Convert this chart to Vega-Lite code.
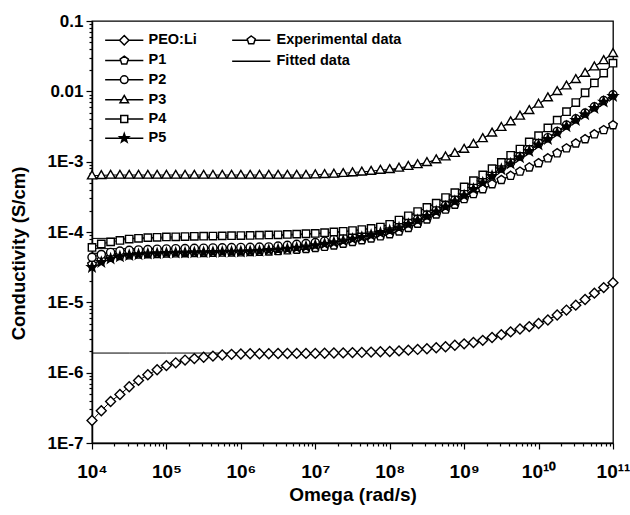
{
"$schema": "https://vega.github.io/schema/vega-lite/v6.json",
"width": 521, "height": 422,
"autosize": {"type": "none"},
"padding": {"left": 92, "top": 21, "right": 17, "bottom": 72},
"background": "white",
"config": {
 "font": "Liberation Sans",
 "view": {"stroke": "black", "strokeWidth": 1.3},
 "axis": {"grid": false, "domainColor": "black", "domainWidth": 1.5, "tickColor": "black", "tickWidth": 1.2, "labelColor": "black", "titleColor": "black", "labelFont": "Liberation Sans", "titleFont": "Liberation Sans", "labelFontWeight": "bold", "labelFlush": false, "labelOverlap": false},
 "legend": {"labelFont": "Liberation Sans", "labelFontSize": 14.5, "labelFontWeight": "bold", "labelColor": "black", "padding": 0, "rowPadding": 4.2, "symbolSize": 72, "titlePadding": 0}
},
"datasets": {
 "exp": [
{"w":1e4,"PEO:Li":2.09e-7,"P1":3.47e-5,"P2":4.37e-5,"P3":6.31e-4,"P4":6.03e-5,"P5":3.16e-5},
{"w":1.3335e4,"PEO:Li":2.88e-7,"P1":3.98e-5,"P2":4.79e-5,"P3":6.38e-4,"P4":6.76e-5,"P5":3.715e-5},
{"w":1.7783e4,"PEO:Li":3.89e-7,"P1":4.37e-5,"P2":5.13e-5,"P3":6.46e-4,"P4":7.24e-5,"P5":4.17e-5},
{"w":2.3714e4,"PEO:Li":4.90e-7,"P1":4.57e-5,"P2":5.37e-5,"P3":6.46e-4,"P4":7.59e-5,"P5":4.47e-5},
{"w":3.1623e4,"PEO:Li":6.31e-7,"P1":4.68e-5,"P2":5.50e-5,"P3":6.46e-4,"P4":7.94e-5,"P5":4.68e-5},
{"w":4.217e4,"PEO:Li":7.76e-7,"P1":4.79e-5,"P2":5.56e-5,"P3":6.46e-4,"P4":8.13e-5,"P5":4.79e-5},
{"w":5.6234e4,"PEO:Li":9.33e-7,"P1":4.84e-5,"P2":5.62e-5,"P3":6.46e-4,"P4":8.32e-5,"P5":4.90e-5},
{"w":7.4989e4,"PEO:Li":1.10e-6,"P1":4.90e-5,"P2":5.69e-5,"P3":6.46e-4,"P4":8.41e-5,"P5":4.95e-5},
{"w":1e5,"PEO:Li":1.26e-6,"P1":4.95e-5,"P2":5.75e-5,"P3":6.46e-4,"P4":8.51e-5,"P5":5.01e-5},
{"w":1.3335e5,"PEO:Li":1.38e-6,"P1":4.99e-5,"P2":5.79e-5,"P3":6.46e-4,"P4":8.55e-5,"P5":5.05e-5},
{"w":1.7783e5,"PEO:Li":1.51e-6,"P1":5.01e-5,"P2":5.82e-5,"P3":6.46e-4,"P4":8.61e-5,"P5":5.07e-5},
{"w":2.3714e5,"PEO:Li":1.585e-6,"P1":5.04e-5,"P2":5.86e-5,"P3":6.46e-4,"P4":8.67e-5,"P5":5.11e-5},
{"w":3.1623e5,"PEO:Li":1.66e-6,"P1":5.06e-5,"P2":5.89e-5,"P3":6.46e-4,"P4":8.71e-5,"P5":5.13e-5},
{"w":4.217e5,"PEO:Li":1.72e-6,"P1":5.08e-5,"P2":5.93e-5,"P3":6.46e-4,"P4":8.75e-5,"P5":5.16e-5},
{"w":5.6234e5,"PEO:Li":1.78e-6,"P1":5.11e-5,"P2":5.96e-5,"P3":6.46e-4,"P4":8.81e-5,"P5":5.19e-5},
{"w":7.4989e5,"PEO:Li":1.82e-6,"P1":5.13e-5,"P2":6.00e-5,"P3":6.46e-4,"P4":8.87e-5,"P5":5.22e-5},
{"w":1e6,"PEO:Li":1.84e-6,"P1":5.15e-5,"P2":6.03e-5,"P3":6.46e-4,"P4":8.91e-5,"P5":5.25e-5},
{"w":1.3335e6,"PEO:Li":1.86e-6,"P1":5.19e-5,"P2":6.05e-5,"P3":6.46e-4,"P4":8.95e-5,"P5":5.31e-5},
{"w":1.7783e6,"PEO:Li":1.86e-6,"P1":5.25e-5,"P2":6.10e-5,"P3":6.46e-4,"P4":9.02e-5,"P5":5.37e-5},
{"w":2.3714e6,"PEO:Li":1.86e-6,"P1":5.31e-5,"P2":6.14e-5,"P3":6.46e-4,"P4":9.08e-5,"P5":5.50e-5},
{"w":3.1623e6,"PEO:Li":1.87e-6,"P1":5.37e-5,"P2":6.31e-5,"P3":6.46e-4,"P4":9.12e-5,"P5":5.62e-5},
{"w":4.217e6,"PEO:Li":1.87e-6,"P1":5.50e-5,"P2":6.46e-5,"P3":6.46e-4,"P4":9.23e-5,"P5":5.75e-5},
{"w":5.6234e6,"PEO:Li":1.88e-6,"P1":5.62e-5,"P2":6.68e-5,"P3":6.46e-4,"P4":9.33e-5,"P5":5.96e-5},
{"w":7.4989e6,"PEO:Li":1.88e-6,"P1":5.75e-5,"P2":6.84e-5,"P3":6.46e-4,"P4":9.44e-5,"P5":6.17e-5},
{"w":1e7,"PEO:Li":1.88e-6,"P1":5.96e-5,"P2":7.08e-5,"P3":6.53e-4,"P4":9.55e-5,"P5":6.46e-5},
{"w":1.3335e7,"PEO:Li":1.89e-6,"P1":6.17e-5,"P2":7.41e-5,"P3":6.61e-4,"P4":9.77e-5,"P5":6.76e-5},
{"w":1.7783e7,"PEO:Li":1.905e-6,"P1":6.46e-5,"P2":7.94e-5,"P3":6.68e-4,"P4":1.00e-4,"P5":7.08e-5},
{"w":2.3714e7,"PEO:Li":1.91e-6,"P1":6.84e-5,"P2":8.41e-5,"P3":6.84e-4,"P4":1.023e-4,"P5":7.50e-5},
{"w":3.1623e7,"PEO:Li":1.93e-6,"P1":7.24e-5,"P2":8.91e-5,"P3":7.00e-4,"P4":1.047e-4,"P5":7.94e-5},
{"w":4.217e7,"PEO:Li":1.94e-6,"P1":7.67e-5,"P2":9.33e-5,"P3":7.16e-4,"P4":1.084e-4,"P5":8.41e-5},
{"w":5.6234e7,"PEO:Li":1.96e-6,"P1":8.13e-5,"P2":9.77e-5,"P3":7.33e-4,"P4":1.122e-4,"P5":9.02e-5},
{"w":7.4989e7,"PEO:Li":1.98e-6,"P1":8.71e-5,"P2":1.035e-4,"P3":7.59e-4,"P4":1.175e-4,"P5":9.66e-5},
{"w":1e8,"PEO:Li":2.00e-6,"P1":9.33e-5,"P2":1.109e-4,"P3":7.76e-4,"P4":1.288e-4,"P5":1.047e-4},
{"w":1.3335e8,"PEO:Li":2.04e-6,"P1":1.023e-4,"P2":1.216e-4,"P3":8.13e-4,"P4":1.479e-4,"P5":1.148e-4},
{"w":1.7783e8,"PEO:Li":2.09e-6,"P1":1.148e-4,"P2":1.349e-4,"P3":8.61e-4,"P4":1.698e-4,"P5":1.288e-4},
{"w":2.3714e8,"PEO:Li":2.14e-6,"P1":1.318e-4,"P2":1.531e-4,"P3":9.12e-4,"P4":1.95e-4,"P5":1.462e-4},
{"w":3.1623e8,"PEO:Li":2.19e-6,"P1":1.514e-4,"P2":1.758e-4,"P3":9.77e-4,"P4":2.24e-4,"P5":1.679e-4},
{"w":4.217e8,"PEO:Li":2.265e-6,"P1":1.778e-4,"P2":2.04e-4,"P3":1.07e-3,"P4":2.57e-4,"P5":1.95e-4},
{"w":5.6234e8,"PEO:Li":2.34e-6,"P1":2.09e-4,"P2":2.40e-4,"P3":1.175e-3,"P4":3.09e-4,"P5":2.29e-4},
{"w":7.4989e8,"PEO:Li":2.455e-6,"P1":2.455e-4,"P2":2.85e-4,"P3":1.318e-3,"P4":3.63e-4,"P5":2.72e-4},
{"w":1e9,"PEO:Li":2.57e-6,"P1":2.95e-4,"P2":3.55e-4,"P3":1.51e-3,"P4":4.37e-4,"P5":3.31e-4},
{"w":1.3335e9,"PEO:Li":2.69e-6,"P1":3.47e-4,"P2":4.37e-4,"P3":1.78e-3,"P4":5.37e-4,"P5":4.07e-4},
{"w":1.7783e9,"PEO:Li":2.88e-6,"P1":4.07e-4,"P2":5.37e-4,"P3":2.14e-3,"P4":6.46e-4,"P5":5.01e-4},
{"w":2.3714e9,"PEO:Li":3.16e-6,"P1":4.79e-4,"P2":6.61e-4,"P3":2.57e-3,"P4":7.94e-4,"P5":6.24e-4},
{"w":3.1623e9,"PEO:Li":3.47e-6,"P1":5.50e-4,"P2":8.13e-4,"P3":3.09e-3,"P4":9.77e-4,"P5":7.76e-4},
{"w":4.217e9,"PEO:Li":3.80e-6,"P1":6.31e-4,"P2":9.77e-4,"P3":3.715e-3,"P4":1.23e-3,"P5":9.33e-4},
{"w":5.6234e9,"PEO:Li":4.17e-6,"P1":7.24e-4,"P2":1.20e-3,"P3":4.47e-3,"P4":1.51e-3,"P5":1.148e-3},
{"w":7.4989e9,"PEO:Li":4.52e-6,"P1":8.32e-4,"P2":1.48e-3,"P3":5.37e-3,"P4":1.905e-3,"P5":1.41e-3},
{"w":1e10,"PEO:Li":5.01e-6,"P1":9.55e-4,"P2":1.82e-3,"P3":6.61e-3,"P4":2.34e-3,"P5":1.74e-3},
{"w":1.3335e10,"PEO:Li":5.62e-6,"P1":1.12e-3,"P2":2.19e-3,"P3":8.13e-3,"P4":3.02e-3,"P5":2.09e-3},
{"w":1.7783e10,"PEO:Li":6.61e-6,"P1":1.32e-3,"P2":2.69e-3,"P3":1.00e-2,"P4":3.89e-3,"P5":2.57e-3},
{"w":2.3714e10,"PEO:Li":7.76e-6,"P1":1.55e-3,"P2":3.31e-3,"P3":1.20e-2,"P4":5.13e-3,"P5":3.16e-3},
{"w":3.1623e10,"PEO:Li":9.12e-6,"P1":1.82e-3,"P2":4.07e-3,"P3":1.48e-2,"P4":6.92e-3,"P5":3.89e-3},
{"w":4.217e10,"PEO:Li":1.096e-5,"P1":2.09e-3,"P2":4.90e-3,"P3":1.82e-2,"P4":9.55e-3,"P5":4.68e-3},
{"w":5.6234e10,"PEO:Li":1.35e-5,"P1":2.455e-3,"P2":6.03e-3,"P3":2.24e-2,"P4":1.318e-2,"P5":5.75e-3},
{"w":7.4989e10,"PEO:Li":1.62e-5,"P1":2.82e-3,"P2":7.41e-3,"P3":2.75e-2,"P4":1.82e-2,"P5":7.08e-3},
{"w":1e11,"PEO:Li":1.905e-5,"P1":3.31e-3,"P2":8.91e-3,"P3":3.47e-2,"P4":2.51e-2,"P5":8.51e-3}
 ],
 "fit": [
{"w":1e4,"PEO:Li":1.90e-6,"P1":5.0e-5,"P2":5.8e-5,"P3":5.9e-4,"P4":8.1e-5,"P5":4.9e-5},
{"w":3.1623e4,"PEO:Li":1.90e-6,"P1":5.0e-5,"P2":5.8e-5,"P3":5.9e-4,"P4":8.15e-5,"P5":4.95e-5},
{"w":1e5,"PEO:Li":1.90e-6,"P1":5.0e-5,"P2":5.85e-5,"P3":5.9e-4,"P4":8.2e-5,"P5":5.0e-5},
{"w":3.1623e5,"PEO:Li":1.90e-6,"P1":5.05e-5,"P2":5.9e-5,"P3":5.9e-4,"P4":8.3e-5,"P5":5.1e-5},
{"w":1e6,"PEO:Li":1.90e-6,"P1":5.15e-5,"P2":6.0e-5,"P3":5.9e-4,"P4":8.5e-5,"P5":5.25e-5},
{"w":3.1623e6,"PEO:Li":1.90e-6,"P1":5.37e-5,"P2":6.25e-5,"P3":5.9e-4,"P4":8.9e-5,"P5":5.62e-5},
{"w":1e7,"PEO:Li":1.90e-6,"P1":5.96e-5,"P2":7.0e-5,"P3":5.95e-4,"P4":9.4e-5,"P5":6.46e-5},
{"w":3.1623e7,"PEO:Li":1.93e-6,"P1":7.24e-5,"P2":8.9e-5,"P3":6.3e-4,"P4":1.04e-4,"P5":7.94e-5},
{"w":1e8,"PEO:Li":2.00e-6,"P1":9.33e-5,"P2":1.11e-4,"P3":7.5e-4,"P4":1.29e-4,"P5":1.047e-4},
{"w":3.1623e8,"PEO:Li":2.19e-6,"P1":1.514e-4,"P2":1.76e-4,"P3":9.7e-4,"P4":2.24e-4,"P5":1.679e-4},
{"w":1e9,"PEO:Li":2.57e-6,"P1":2.95e-4,"P2":3.55e-4,"P3":1.51e-3,"P4":4.37e-4,"P5":3.31e-4},
{"w":3.1623e9,"PEO:Li":3.47e-6,"P1":5.5e-4,"P2":8.13e-4,"P3":3.09e-3,"P4":9.77e-4,"P5":7.76e-4},
{"w":1e10,"PEO:Li":5.01e-6,"P1":9.55e-4,"P2":1.82e-3,"P3":6.61e-3,"P4":2.34e-3,"P5":1.74e-3},
{"w":3.1623e10,"PEO:Li":9.12e-6,"P1":1.82e-3,"P2":4.07e-3,"P3":1.48e-2,"P4":6.92e-3,"P5":3.89e-3},
{"w":1e11,"PEO:Li":1.905e-5,"P1":3.31e-3,"P2":8.91e-3,"P3":3.47e-2,"P4":2.51e-2,"P5":8.51e-3}
 ]
},
"encoding": {
 "x": {"field": "w", "type": "quantitative",
  "scale": {"type": "log", "domain": [1e4, 1e11], "nice": false},
  "axis": {
   "values": [1e4,2e4,3e4,4e4,5e4,6e4,7e4,8e4,9e4,1e5,2e5,3e5,4e5,5e5,6e5,7e5,8e5,9e5,1e6,2e6,3e6,4e6,5e6,6e6,7e6,8e6,9e6,1e7,2e7,3e7,4e7,5e7,6e7,7e7,8e7,9e7,1e8,2e8,3e8,4e8,5e8,6e8,7e8,8e8,9e8,1e9,2e9,3e9,4e9,5e9,6e9,7e9,8e9,9e9,1e10,2e10,3e10,4e10,5e10,6e10,7e10,8e10,9e10,1e11],
   "labelExpr": "abs(log(datum.value)/LN10 - round(log(datum.value)/LN10)) < 0.001 ? '10' + ['⁰','¹','²','³','⁴','⁵','⁶','⁷','⁸','⁹','¹⁰','¹¹'][round(log(datum.value)/LN10)] : ''",
   "tickSize": {"condition": {"test": "abs(log(datum.value)/LN10 - round(log(datum.value)/LN10)) < 0.001", "value": 6}, "value": 3},
   "labelFontSize": 19, "labelPadding": 13,
   "title": "Omega (rad/s)", "titleFontSize": 19, "titleFontWeight": "bold",
   "titleY": 57, "titleBaseline": "alphabetic"
  }},
 "y": {"field": "sigma", "type": "quantitative",
  "scale": {"type": "log", "domain": [1e-7, 0.1], "nice": false},
  "axis": {
   "values": [1e-7,2e-7,3e-7,4e-7,5e-7,6e-7,7e-7,8e-7,9e-7,1e-6,2e-6,3e-6,4e-6,5e-6,6e-6,7e-6,8e-6,9e-6,1e-5,2e-5,3e-5,4e-5,5e-5,6e-5,7e-5,8e-5,9e-5,1e-4,2e-4,3e-4,4e-4,5e-4,6e-4,7e-4,8e-4,9e-4,1e-3,2e-3,3e-3,4e-3,5e-3,6e-3,7e-3,8e-3,9e-3,0.01,0.02,0.03,0.04,0.05,0.06,0.07,0.08,0.09,0.1],
   "labelExpr": "abs(log(datum.value)/LN10 - round(log(datum.value)/LN10)) < 0.001 ? (datum.value > 0.05 ? '0.1' : datum.value > 0.005 ? '0.01' : '1E' + round(log(datum.value)/LN10)) : ''",
   "tickSize": {"condition": {"test": "abs(log(datum.value)/LN10 - round(log(datum.value)/LN10)) < 0.001", "value": 6}, "value": 3},
   "labelFontSize": 17, "labelPadding": 3,
   "title": "Conductivity (S/cm)", "titleFontSize": 18.5, "titleFontWeight": "bold",
   "titleX": -74, "titleY": 232, "titleBaseline": "middle"
  }}
},
"resolve": {"scale": {"shape": "independent"}, "legend": {"shape": "independent"}},
"layer": [
 {"data": {"name": "fit"},
  "transform": [{"fold": ["PEO:Li","P1","P2","P3","P4","P5"], "as": ["series","sigma"]}],
  "mark": {"type": "line", "color": "black", "strokeWidth": 1, "interpolate": "monotone"},
  "encoding": {"detail": {"field": "series"}}},
 {"data": {"name": "exp"},
  "transform": [{"fold": ["PEO:Li","P1","P2","P3","P4","P5"], "as": ["series","sigma"]}],
  "mark": {"type": "line", "color": "black", "strokeWidth": 1},
  "encoding": {"detail": {"field": "series"}}},
 {"data": {"name": "exp"},
  "transform": [{"fold": ["PEO:Li","P1","P2","P3","P4","P5"], "as": ["series","sigma"]}],
  "mark": {"type": "point", "filled": true, "stroke": "black", "strokeWidth": 1.4, "size": 81, "opacity": 1},
  "encoding": {
   "shape": {"field": "series", "type": "nominal",
    "scale": {"domain": ["PEO:Li","P1","P2","P3","P4","P5"],
     "range": ["M0,-1.1L1.1,0L0,1.1L-1.1,0Z",
               "M0,-1L0.951,-0.309L0.588,0.809L-0.588,0.809L-0.951,-0.309Z",
               "M0.9,0A0.9,0.9,0,1,1,-0.9,0A0.9,0.9,0,1,1,0.9,0Z",
               "M0,-1.05L1,0.7L-1,0.7Z",
               "M-0.82,-0.82H0.82V0.82H-0.82Z",
               "M0,-1.1L0.26,-0.36L1.05,-0.34L0.42,0.14L0.65,0.89L0,0.44L-0.65,0.89L-0.42,0.14L-1.05,-0.34L-0.26,-0.36Z"]},
    "legend": null},
   "fill": {"field": "series", "type": "nominal",
    "scale": {"domain": ["PEO:Li","P1","P2","P3","P4","P5"], "range": ["white","white","white","white","white","black"]},
    "legend": null}
  }},
 {"data": {"name": "exp"},
  "transform": [{"fold": ["PEO:Li","P1","P2","P3","P4","P5"], "as": ["series","sigma"]}, {"filter": "false"}],
  "mark": {"type": "point", "filled": true, "fill": "white", "stroke": "black", "strokeWidth": 1.3, "size": 72, "opacity": 1},
  "encoding": {
   "shape": {"field": "series", "type": "nominal",
    "scale": {"domain": ["PEO:Li","P1","P2","P3","P4","P5"],
     "range": ["M-4.5,0H-1.1M1.1,0H4.5M0,-1.1L1.1,0L0,1.1L-1.1,0Z",
               "M-4.5,0H-0.85M0.85,0H4.5M0,-1L0.951,-0.309L0.588,0.809L-0.588,0.809L-0.951,-0.309Z",
               "M-4.5,0H-0.9M0.9,0H4.5M0.9,0A0.9,0.9,0,1,1,-0.9,0A0.9,0.9,0,1,1,0.9,0Z",
               "M-4.5,0H-0.6M0.6,0H4.5M0,-1.05L1,0.7L-1,0.7Z",
               "M-4.5,0H-0.82M0.82,0H4.5M-0.82,-0.82H0.82V0.82H-0.82Z",
               "M-4.5,0H-0.5M0.5,0H4.5M0,-1.1L0.26,-0.36L1.05,-0.34L0.42,0.14L0.65,0.89L0,0.44L-0.65,0.89L-0.42,0.14L-1.05,-0.34L-0.26,-0.36ZM0,-0.715L0.17,-0.23L0.68,-0.22L0.27,0.09L0.42,0.58L0,0.29L-0.42,0.58L-0.27,0.09L-0.68,-0.22L-0.17,-0.23ZM0,-0.33L0.08,-0.11L0.315,-0.1L0.13,0.04L0.195,0.27L0,0.13L-0.195,0.27L-0.13,0.04L-0.315,-0.1L-0.08,-0.11Z"]},
    "legend": {"orient": "none", "legendX": 25, "legendY": 12, "title": null, "labelOffset": 17}}
  }},
 {"data": {"name": "fit"},
  "transform": [{"fold": ["PEO:Li","P1","P2","P3","P4","P5"], "as": ["series","sigma"]}, {"filter": "false"}],
  "mark": {"type": "point", "filled": true, "fill": "white", "stroke": "black", "strokeWidth": 1.3, "size": 72, "opacity": 1},
  "encoding": {
   "shape": {"datum": "Experimental data", "type": "nominal",
    "scale": {"domain": ["Experimental data"], "range": ["M-4.5,0H-0.85M0.85,0H4.5M0,-1L0.951,-0.309L0.588,0.809L-0.588,0.809L-0.951,-0.309Z"]},
    "legend": {"orient": "none", "legendX": 152, "legendY": 12, "title": null, "labelOffset": 18}}
  }},
 {"data": {"name": "fit"},
  "transform": [{"fold": ["PEO:Li","P1","P2","P3","P4","P5"], "as": ["series","sigma"]}, {"filter": "false"}],
  "mark": {"type": "point", "filled": true, "fill": "white", "stroke": "black", "strokeWidth": 1.3, "size": 72, "opacity": 1},
  "encoding": {
   "shape": {"datum": "Fitted data", "type": "nominal",
    "scale": {"domain": ["Fitted data"], "range": ["M-4.5,0H4.5"]},
    "legend": {"orient": "none", "legendX": 152, "legendY": 33, "title": null, "labelOffset": 18}}
  }}
]
}
